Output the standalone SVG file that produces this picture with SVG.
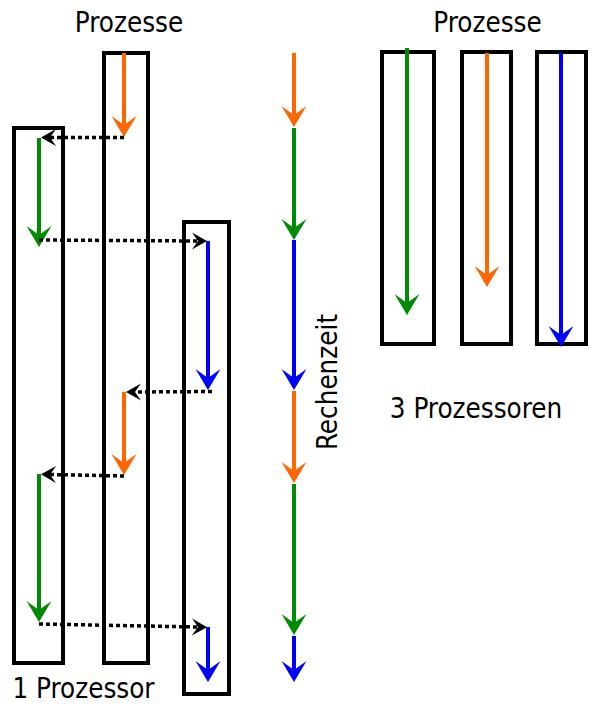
<svg xmlns="http://www.w3.org/2000/svg" width="596" height="707" viewBox="0 0 596 707">
<style>
.box{fill:none;stroke:#000;stroke-width:4}
.t{font-family:"DejaVu Sans","Noto Sans",sans-serif;font-stretch:condensed;font-size:27.5px;fill:#000}
.a{fill:none;stroke-width:4}
.o{stroke:#ff6600}.g{stroke:#008c00}.b{stroke:#0000ff}
.dot{fill:none;stroke:#000;stroke-width:3.5;stroke-dasharray:4 3;marker-end:url(#mk)}
</style>
<defs>
<marker id="mo" markerUnits="userSpaceOnUse" viewBox="-15 -15 30 30" markerWidth="30" markerHeight="30" refX="0" refY="0" orient="auto"><path d="M11,0 L-10,-12.5 L-1,0 L-10,12.5 Z" fill="#ff6600"/></marker>
<marker id="mg" markerUnits="userSpaceOnUse" viewBox="-15 -15 30 30" markerWidth="30" markerHeight="30" refX="0" refY="0" orient="auto"><path d="M11,0 L-10,-12.5 L-1,0 L-10,12.5 Z" fill="#008c00"/></marker>
<marker id="mb" markerUnits="userSpaceOnUse" viewBox="-15 -15 30 30" markerWidth="30" markerHeight="30" refX="0" refY="0" orient="auto"><path d="M11,0 L-10,-12.5 L-1,0 L-10,12.5 Z" fill="#0000ff"/></marker>
<marker id="mk" markerUnits="userSpaceOnUse" viewBox="-10 -10 22 20" markerWidth="22" markerHeight="20" refX="0" refY="0" orient="auto"><path d="M9,0 L-6,-8.5 L0,0 L-6,8.5 Z" fill="#000"/></marker>
</defs>

<g id="label-prozesse-left"><text class="t" x="129" y="32" text-anchor="middle">Prozesse</text></g>
<g id="label-prozesse-right"><text class="t" x="487.5" y="32" text-anchor="middle">Prozesse</text></g>
<g id="label-1proz"><text class="t" x="83.5" y="698" text-anchor="middle">1 Prozessor</text></g>
<g id="label-3proz"><text class="t" x="476" y="418" text-anchor="middle">3 Prozessoren</text></g>
<g id="label-rechenzeit"><text class="t" transform="translate(337,382) rotate(-90)" text-anchor="middle">Rechenzeit</text></g>

<g id="proc-green-1"><rect class="box" x="14" y="128" width="49" height="535"/></g>
<g id="proc-orange-1"><rect class="box" x="104" y="53" width="44" height="610"/></g>
<g id="proc-blue-1"><rect class="box" x="184" y="222" width="45" height="472"/></g>

<g id="proc-green-3"><rect class="box" x="382" y="52" width="52" height="292"/></g>
<g id="proc-orange-3"><rect class="box" x="462" y="52" width="49" height="292"/></g>
<g id="proc-blue-3"><rect class="box" x="537" y="52" width="49" height="292"/></g>

<g id="connectors">
<line class="a o" x1="124" y1="53" x2="124" y2="126" marker-end="url(#mo)"/>
<line class="a g" x1="39" y1="138" x2="39" y2="236" marker-end="url(#mg)"/>
<line class="a b" x1="208" y1="241" x2="208" y2="379" marker-end="url(#mb)"/>
<line class="a o" x1="124" y1="392" x2="124" y2="464" marker-end="url(#mo)"/>
<line class="a g" x1="39" y1="474" x2="39" y2="611" marker-end="url(#mg)"/>
<line class="a b" x1="208" y1="627" x2="208" y2="671" marker-end="url(#mb)"/>
<line class="dot" x1="124" y1="137.5" x2="50" y2="137.5"/>
<line class="dot" x1="39" y1="240" x2="198" y2="241"/>
<line class="dot" x1="212" y1="391.5" x2="135" y2="392"/>
<line class="dot" x1="124" y1="476" x2="50" y2="474.5"/>
<line class="dot" x1="39" y1="624" x2="198" y2="627"/>
<line class="a o" x1="294" y1="53" x2="294" y2="116" marker-end="url(#mo)"/>
<line class="a g" x1="294" y1="128" x2="294" y2="229" marker-end="url(#mg)"/>
<line class="a b" x1="294" y1="240" x2="294" y2="379" marker-end="url(#mb)"/>
<line class="a o" x1="294" y1="391" x2="294" y2="472" marker-end="url(#mo)"/>
<line class="a g" x1="294" y1="484" x2="294" y2="624" marker-end="url(#mg)"/>
<line class="a b" x1="294" y1="636" x2="294" y2="671" marker-end="url(#mb)"/>
<line class="a g" x1="407" y1="48" x2="407" y2="304" marker-end="url(#mg)"/>
<line class="a o" x1="487" y1="53" x2="487" y2="276" marker-end="url(#mo)"/>
<line class="a b" x1="561" y1="53" x2="561" y2="336" marker-end="url(#mb)"/>
</g>
</svg>
